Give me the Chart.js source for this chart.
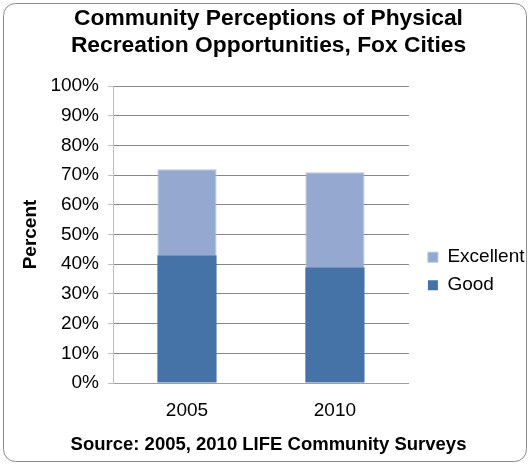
<!DOCTYPE html>
<html><head><meta charset="utf-8">
<script src="https://cdn.jsdelivr.net/npm/chart.js@4/dist/chart.umd.min.js"></script>
<style>html,body{margin:0;padding:0;background:#fff}#w{width:530px;height:464px}</style>
</head><body><div id="w"><canvas id="c" width="530" height="464"></canvas></div>
<script>
const categories = ['2005', '2010'];
const goodValues = [43, 39];
const excellentValues = [29, 32];
const yTicks = [0, 10, 20, 30, 40, 50, 60, 70, 80, 90, 100];

const FONT = '"Liberation Sans", Arial, sans-serif';
const framePlugin = {
  id: 'frame',
  beforeDraw(chart) {
    const ctx = chart.ctx;
    ctx.save();
    ctx.fillStyle = '#fff';
    ctx.fillRect(0, 0, chart.width, chart.height);
    ctx.strokeStyle = '#8c8c8c';
    ctx.lineWidth = 1;
    ctx.beginPath();
    ctx.roundRect(3.5, 3.5, chart.width - 7, chart.height - 6, 12);
    ctx.stroke();
    ctx.restore();
  }
};
const legendShift = {
  id: 'legendShift',
  afterLayout(chart) {
    const lg = chart.legend;
    if (lg) { lg.left += 10; lg.right += 10; }
  }
};

new Chart(document.getElementById('c'), {
  type: 'bar',
  data: {
    labels: categories,
    datasets: [
      { label: 'Good', data: goodValues, backgroundColor: '#4572a7', borderWidth: 0, barPercentage: 0.4, categoryPercentage: 1 },
      { label: 'Excellent', data: excellentValues, backgroundColor: '#95a9d0', borderColor: '#b6c4df', borderWidth: 1, barPercentage: 0.4, categoryPercentage: 1 }
    ]
  },
  options: {
    responsive: false,
    animation: false,
    devicePixelRatio: 1,
    layout: { padding: { left: 12.5, right: 5.5, top: 0, bottom: 0 } },
    plugins: {
      title: {
        display: true,
        text: ['Community Perceptions of Physical', 'Recreation Opportunities, Fox Cities'],
        color: '#000',
        font: { family: FONT, size: 22.8, weight: 'bold', lineHeight: 1.2 },
        padding: { top: 4.8, bottom: 26.5 }
      },
      subtitle: {
        display: true,
        position: 'bottom',
        text: 'Source: 2005, 2010 LIFE Community Surveys',
        color: '#000',
        font: { family: FONT, size: 18.5, weight: 'bold', lineHeight: 1.2 },
        padding: { top: 10.8, bottom: 8 }
      },
      legend: {
        position: 'right',
        reverse: true,
        title: { display: true, text: ' ', padding: 32, font: { size: 12 } },
        labels: {
          color: '#000',
          font: { family: FONT, size: 19 },
          boxWidth: 10,
          boxHeight: 10,
          padding: 9
        }
      },
      tooltip: { enabled: false }
    },
    scales: {
      x: {
        stacked: true,
        afterFit(scale) { scale.height = 40; },
        grid: { display: false, drawTicks: false },
        border: { color: '#a0a0a0' },
        ticks: { color: '#000', font: { family: FONT, size: 19 }, padding: 16 }
      },
      y: {
        stacked: true,
        min: 0,
        max: 100,
        afterFit(scale) { scale.width = 100.5; },
        afterBuildTicks(scale) { scale.ticks = yTicks.map(v => ({ value: v })); },
        grid: { color: '#878787', tickColor: '#bfbfbf', tickLength: 5 },
        border: { color: '#bfbfbf' },
        ticks: { color: '#000', font: { family: FONT, size: 19 }, padding: 9, callback: v => v + '%' },
        title: { display: true, text: 'Percent', color: '#000', font: { family: FONT, size: 19, weight: 'bold' }, padding: { top: 7, bottom: 0 } }
      }
    }
  },
  plugins: [framePlugin, legendShift]
});
</script>
</body></html>
